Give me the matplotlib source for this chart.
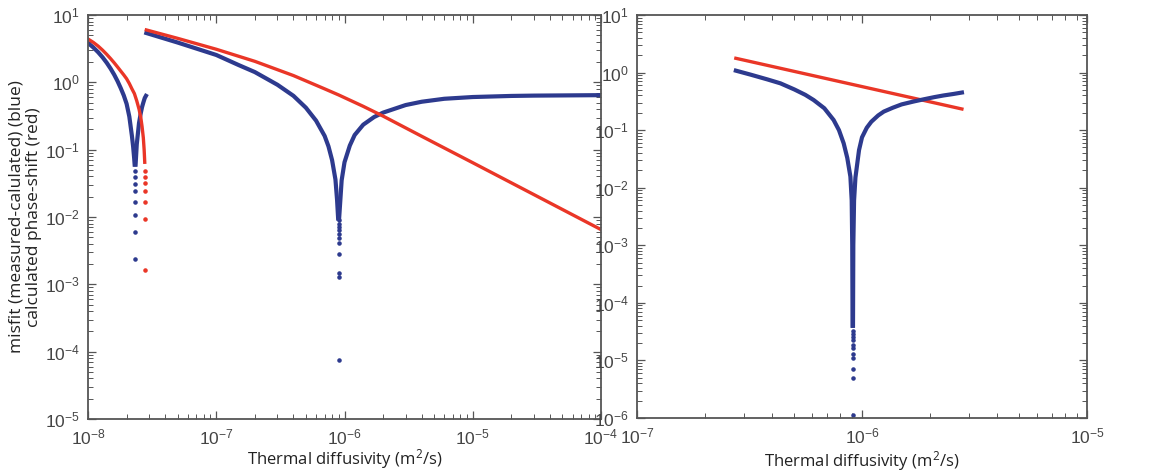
import math
import matplotlib
matplotlib.use("Agg")
import matplotlib.pyplot as plt
from matplotlib.ticker import LogLocator, FuncFormatter, NullFormatter

BLUE = "#2d3a8e"
RED = "#ea3627"

# ---- left panel, branch 1 (low diffusivity) ----
b1_left_x = [1.0e-8, 1.1e-8, 1.2e-8, 1.3e-8, 1.4e-8, 1.5e-8, 1.6e-8, 1.7e-8, 1.8e-8,
             1.9e-8, 2.0e-8, 2.1e-8, 2.2e-8, 2.25e-8, 2.29e-8, 2.31e-8]
b1_left_y = [3.85, 3.3, 2.8, 2.35, 1.95, 1.6, 1.3, 1.04, 0.82,
             0.64, 0.48, 0.31, 0.16, 0.11, 0.075, 0.06]
b1_right_x = [2.35e-8, 2.4e-8, 2.5e-8, 2.58e-8, 2.64e-8, 2.7e-8, 2.77e-8, 2.83e-8]
b1_right_y = [0.06, 0.12, 0.25, 0.35, 0.43, 0.5, 0.585, 0.63]
b1_dots_x = [2.33e-8] * 8
b1_dots_y = [0.048, 0.039, 0.031, 0.024, 0.0168, 0.0107, 0.0060, 0.00234]

r1_x = [1.0e-8, 1.1e-8, 1.2e-8, 1.3e-8, 1.4e-8, 1.5e-8, 1.6e-8, 1.7e-8, 1.8e-8, 1.9e-8,
        2.0e-8, 2.1e-8, 2.2e-8, 2.3e-8, 2.4e-8, 2.5e-8, 2.58e-8, 2.64e-8, 2.7e-8, 2.74e-8, 2.77e-8]
r1_y = [4.4, 3.92, 3.45, 3.0, 2.6, 2.25, 1.95, 1.69, 1.47, 1.29,
        1.13, 0.96, 0.8, 0.68, 0.53, 0.4, 0.3, 0.22, 0.15, 0.1, 0.065]
r1_dots_x = [2.79e-8] * 7
r1_dots_y = [0.048, 0.039, 0.0315, 0.0243, 0.0168, 0.0092, 0.00163]

# ---- left panel, branch 2 ----
b2_left_x = [2.85e-8, 5e-8, 1.0e-7, 1.5e-7, 2.0e-7, 3.0e-7, 4.0e-7, 5.0e-7, 6.0e-7,
             7.0e-7, 7.5e-7, 8.0e-7, 8.5e-7, 8.75e-7, 8.92e-7]
b2_left_y = [5.4, 3.9, 2.55, 1.8, 1.42, 0.92, 0.63, 0.42, 0.27,
             0.16, 0.112, 0.07, 0.036, 0.018, 0.0095]
b2_right_x = [9.08e-7, 9.5e-7, 1.0e-6, 1.1e-6, 1.2e-6, 1.4e-6, 1.7e-6, 2.0e-6, 3.0e-6,
              4.0e-6, 6.0e-6, 1.0e-5, 2.0e-5, 3.0e-5, 1.0e-4]
b2_right_y = [0.0095, 0.035, 0.065, 0.115, 0.165, 0.235, 0.305, 0.355, 0.46,
              0.515, 0.57, 0.605, 0.628, 0.635, 0.645]
b2_dots_x = [9.0e-7] * 11
b2_dots_y = [0.0090, 0.0080, 0.0072, 0.0064, 0.0056, 0.0048, 0.0041, 0.0028,
             0.00145, 0.0013, 7.5e-5]

r2_x = [2.85e-8, 5e-8, 1.0e-7, 2.0e-7, 4.0e-7, 7.0e-7, 9.0e-7, 1.4e-6, 2.0e-6,
        4.0e-6, 1.0e-5, 3.0e-5, 1.0e-4]
r2_y = [6.0, 4.5, 3.1, 2.05, 1.26, 0.8, 0.65, 0.44, 0.315,
        0.158, 0.064, 0.0215, 0.0065]

# ---- right panel ----
rb_left_x = [2.75e-7, 3.2e-7, 3.8e-7, 4.34e-7, 5.0e-7, 5.6e-7, 6.1e-7, 6.8e-7, 7.48e-7,
             7.9e-7, 8.29e-7, 8.6e-7, 8.88e-7, 9.0e-7, 9.05e-7, 9.08e-7]
rb_left_y = [1.08, 0.92, 0.76, 0.65, 0.51, 0.41, 0.333, 0.24, 0.15,
             0.1, 0.059, 0.033, 0.0156, 0.006, 1.0e-3, 4.0e-5]
rb_right_x = [9.12e-7, 9.15e-7, 9.22e-7, 9.35e-7, 9.7e-7, 1.0e-6, 1.05e-6, 1.1e-6, 1.18e-6,
              1.25e-6, 1.37e-6, 1.5e-6, 1.7e-6, 1.88e-6, 2.1e-6, 2.3e-6, 2.55e-6, 2.78e-6]
rb_right_y = [4.0e-5, 1.0e-3, 0.006, 0.015, 0.045, 0.075, 0.11, 0.14, 0.18,
              0.21, 0.245, 0.28, 0.315, 0.343, 0.375, 0.40, 0.425, 0.45]
rb_dots_x = [9.1e-7] * 11
rb_dots_y = [3.3e-5, 2.9e-5, 2.56e-5, 2.24e-5, 1.83e-5, 1.67e-5, 1.31e-5, 1.1e-5,
             7.2e-6, 5.0e-6, 1.14e-6]

rr_x = [2.75e-7, 2.78e-6]
rr_y = [1.77, 0.233]

xlabel = "Thermal diffusivity (m$^2$/s)"
ylabel = "misfit (measured-calulated) (blue)\ncalculated phase-shift (red)"

plt.rcParams["font.family"] = ["Liberation Sans", "DejaVu Sans"]
plt.rcParams["mathtext.default"] = "regular"
label_font = ["Open Sans", "DejaVu Sans"]

fig = plt.figure(figsize=(11.76, 4.73), dpi=100)
ax1 = fig.add_axes([88 / 1176, 1 - 419 / 473, (601 - 88) / 1176, (419 - 15) / 473])
ax2 = fig.add_axes([637 / 1176, 1 - 418 / 473, (1087 - 637) / 1176, (418 - 15) / 473])


def decade_label(v, pos):
    return "$10^{%d}$" % int(round(math.log10(v)))


def style(ax, xlim, ylim):
    ax.set_xscale("log")
    ax.set_yscale("log")
    ax.set_xlim(*xlim)
    ax.set_ylim(*ylim)
    for a in (ax.xaxis, ax.yaxis):
        a.set_major_locator(LogLocator(base=10, numticks=20))
        a.set_minor_locator(LogLocator(base=10, subs=range(2, 10), numticks=20))
        a.set_major_formatter(FuncFormatter(decade_label))
        a.set_minor_formatter(NullFormatter())
    ax.tick_params(which="both", direction="in", top=True, right=True,
                   color="#555555", labelcolor="#444444", labelsize=12.5)
    ax.tick_params(which="major", length=6, width=0.9, pad=6)
    ax.tick_params(which="minor", length=3.5, width=0.7)
    for s in ax.spines.values():
        s.set_color("#555555")
        s.set_linewidth(1.3)


lw_b, lw_r = 3.0, 2.4
ms = 4.5

# left panel
ax1.plot(b1_left_x, b1_left_y, color=BLUE, lw=lw_b)
ax1.plot(b1_right_x, b1_right_y, color=BLUE, lw=lw_b)
ax1.plot(b1_dots_x, b1_dots_y, ".", color=BLUE, ms=ms)
ax1.plot(r1_x, r1_y, color=RED, lw=lw_r)
ax1.plot(r1_dots_x, r1_dots_y, ".", color=RED, ms=ms)
ax1.plot(b2_left_x, b2_left_y, color=BLUE, lw=lw_b)
ax1.plot(b2_right_x, b2_right_y, color=BLUE, lw=lw_b)
ax1.plot(b2_dots_x, b2_dots_y, ".", color=BLUE, ms=ms)
ax1.plot(r2_x, r2_y, color=RED, lw=lw_r)
style(ax1, (1e-8, 1e-4), (1e-5, 1e1))
ax1.set_xlabel(xlabel, fontsize=12, family=label_font, color="#222222", labelpad=0)
ax1.set_ylabel(ylabel, fontsize=12.5, family=label_font, color="#222222", labelpad=2,
               linespacing=1.15)

# right panel
ax2.plot(rr_x, rr_y, color=RED, lw=lw_r)
ax2.plot(rb_left_x, rb_left_y, color=BLUE, lw=lw_b)
ax2.plot(rb_right_x, rb_right_y, color=BLUE, lw=lw_b)
ax2.plot(rb_dots_x, rb_dots_y, ".", color=BLUE, ms=ms)
style(ax2, (1e-7, 1e-5), (1e-6, 1e1))
ax2.set_xlabel(xlabel, fontsize=12, family=label_font, color="#222222", labelpad=2)

fig.savefig("out.png", dpi=100)
